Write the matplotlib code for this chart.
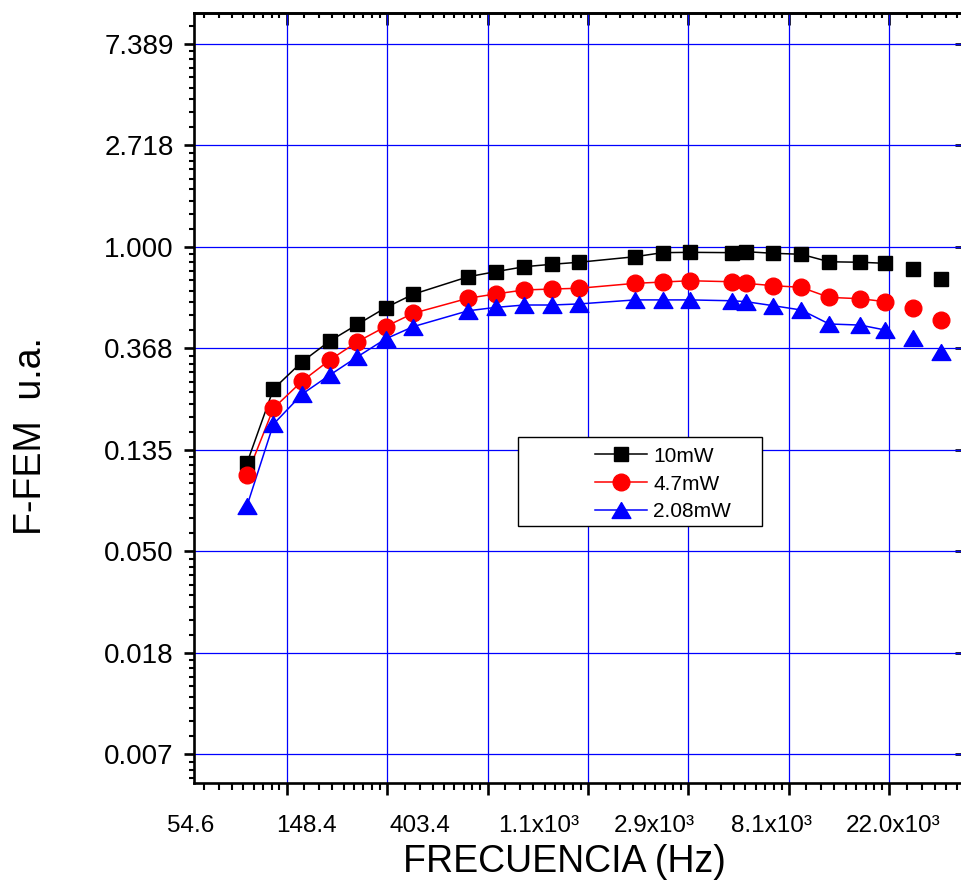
import numpy as np
import matplotlib
matplotlib.use("Agg")
import matplotlib.pyplot as plt
import matplotlib.transforms as mtransforms
from matplotlib.ticker import FixedLocator, FixedFormatter, NullFormatter
from matplotlib.lines import Line2D
from matplotlib.patches import Rectangle

plt.rcParams['font.family'] = ['Liberation Sans', 'DejaVu Sans']

# frecuencia (Hz)
freq = [100, 130, 173, 228, 300, 397, 523, 905, 1190, 1580, 2080, 2730,
        4760, 6270, 8240, 12550, 14350, 18900, 24900, 32900, 44800, 57500,
        76000, 100000]

# F-FEM (u.a.) para cada potencia
fem_10mw = [0.119, 0.246, 0.322, 0.395, 0.465, 0.548, 0.626, 0.744, 0.782,
            0.821, 0.841, 0.858, 0.906, 0.943, 0.946, 0.943, 0.952, 0.937,
            0.928, 0.862, 0.858, 0.849, 0.803, 0.727]
fem_47mw = [0.1055, 0.2035, 0.266, 0.3275, 0.392, 0.455, 0.519, 0.602, 0.628,
            0.653, 0.659, 0.664, 0.697, 0.706, 0.715, 0.708, 0.697, 0.681,
            0.670, 0.607, 0.599, 0.582, 0.545, 0.486]
fem_208mw = [0.078, 0.174, 0.234, 0.2825, 0.338, 0.403, 0.455, 0.532, 0.550,
             0.563, 0.563, 0.569, 0.592, 0.592, 0.592, 0.587, 0.582, 0.559,
             0.536, 0.467, 0.462, 0.440, 0.406, 0.355]

series_labels = ["10mW", "4.7mW", "2.08mW"]
x_tick_labels = ["54.6", "148.4", "403.4", "1.1x10³", "2.9x10³", "8.1x10³", "22.0x10³"]

n_line = 22  # la curva no llega a los dos ultimos puntos


def linear_minors(majors, n=8):
    out = []
    for a, b in zip(majors[:-1], majors[1:]):
        out += [a + j * (b - a) / (n + 1) for j in range(1, n + 1)]
    return out


fig = plt.figure(figsize=(9.61, 8.82), dpi=100)
ax = fig.add_axes([194 / 961, 99 / 882, 768 / 961, 770.3 / 882])
ax.set_xscale('log')
ax.set_yscale('log')
ax.set_xlim(np.exp(4.0767), np.exp(11.7239))
ax.set_ylim(np.exp(-5.2837), np.exp(2.3054))

xmaj = list(np.exp(np.arange(3, 13)))
ymaj = list(np.exp(np.arange(-6, 4)))

ax.xaxis.set_major_locator(FixedLocator(xmaj))
ax.xaxis.set_minor_locator(FixedLocator(linear_minors(xmaj)))
ax.xaxis.set_major_formatter(NullFormatter())
ax.xaxis.set_minor_formatter(NullFormatter())
ax.yaxis.set_major_locator(FixedLocator(ymaj))
ax.yaxis.set_minor_locator(FixedLocator(linear_minors(ymaj)))
ax.yaxis.set_major_formatter(FixedFormatter([f"{v:.3f}" for v in ymaj]))
ax.yaxis.set_minor_formatter(NullFormatter())

ax.tick_params(axis='x', which='major', direction='out', length=8.5, width=1.9)
ax.tick_params(axis='x', which='minor', direction='out', length=4.7, width=1.5)
ax.tick_params(axis='y', which='major', direction='out', length=7.5, width=1.9,
               labelsize=20, pad=7)
ax.tick_params(axis='y', which='minor', direction='out', length=3.6, width=1.5)
for s in ax.spines.values():
    s.set_linewidth(1.9)

ax.grid(True, which='major', color='#0000ff', lw=0.9)
ax.set_axisbelow(True)

# eje superior y derecho
top = ax.secondary_xaxis('top')
top.xaxis.set_major_locator(FixedLocator(xmaj))
top.xaxis.set_minor_locator(FixedLocator(linear_minors(xmaj)))
top.xaxis.set_major_formatter(NullFormatter())
top.xaxis.set_minor_formatter(NullFormatter())
top.tick_params(which='major', direction='in', length=8.5, width=1.9)
top.tick_params(which='minor', direction='in', length=3.6, width=1.5)
top.spines['top'].set_linewidth(1.9)

right = ax.secondary_yaxis('right')
right.yaxis.set_major_locator(FixedLocator(ymaj))
right.yaxis.set_minor_locator(FixedLocator([]))
right.yaxis.set_major_formatter(NullFormatter())
right.tick_params(which='major', direction='in', length=5, width=1.9)

tri = [(0, 0.85), (-1, -0.85), (1, -0.85), (0, 0.85)]
styles = [('#000000', 's', 10), ('#ff0000', 'o', 12), ('#0000ff', tri, 13.5)]
handles = []
for ys, (c, m, ms), lab in zip([fem_10mw, fem_47mw, fem_208mw], styles, series_labels):
    ax.plot(freq[:n_line], ys[:n_line], '-', color=c, lw=1.1, zorder=3)
    ax.plot(freq, ys, ls='none', marker=m, ms=ms, color=c, mec=c, zorder=4)
    handles.append(Line2D([], [], color=c, lw=1.1, marker=m, ms=ms, mec=c))

# caja de la leyenda
ax.add_patch(Rectangle((518 / 961, 1 - 526 / 882), 244 / 961, 89 / 882,
                       transform=fig.transFigure, facecolor='white',
                       edgecolor='black', lw=1.0, zorder=6, clip_on=False))
leg = ax.legend(handles, series_labels, loc='center left',
                bbox_to_anchor=(595 / 961, 1 - 484 / 882),
                bbox_transform=fig.transFigure, frameon=False, borderpad=0,
                borderaxespad=0, fontsize=15, numpoints=1, handlelength=2.5,
                handletextpad=0.3, labelspacing=0.42)
leg.set_zorder(7)

# etiquetas del eje x
trans = mtransforms.blended_transform_factory(ax.transAxes, fig.transFigure)
lab_pos = [-0.0039, 0.1458, 0.2943, 0.4492, 0.5990, 0.7526, 0.9102]
for p, t in zip(lab_pos, x_tick_labels):
    ax.text(p, 1 - 831.7 / 882, t, transform=trans, ha='center', va='baseline',
            fontsize=17.5, clip_on=False)

fig.text(564 / 961, 1 - 872 / 882, "FRECUENCIA (Hz)", ha='center',
         va='baseline', fontsize=27)
fig.text(31 / 961, 1 - 436 / 882, "F-FEM  u.a.", ha='center', va='center',
         rotation=90, fontsize=27)

fig.savefig("out.png", dpi=100)
